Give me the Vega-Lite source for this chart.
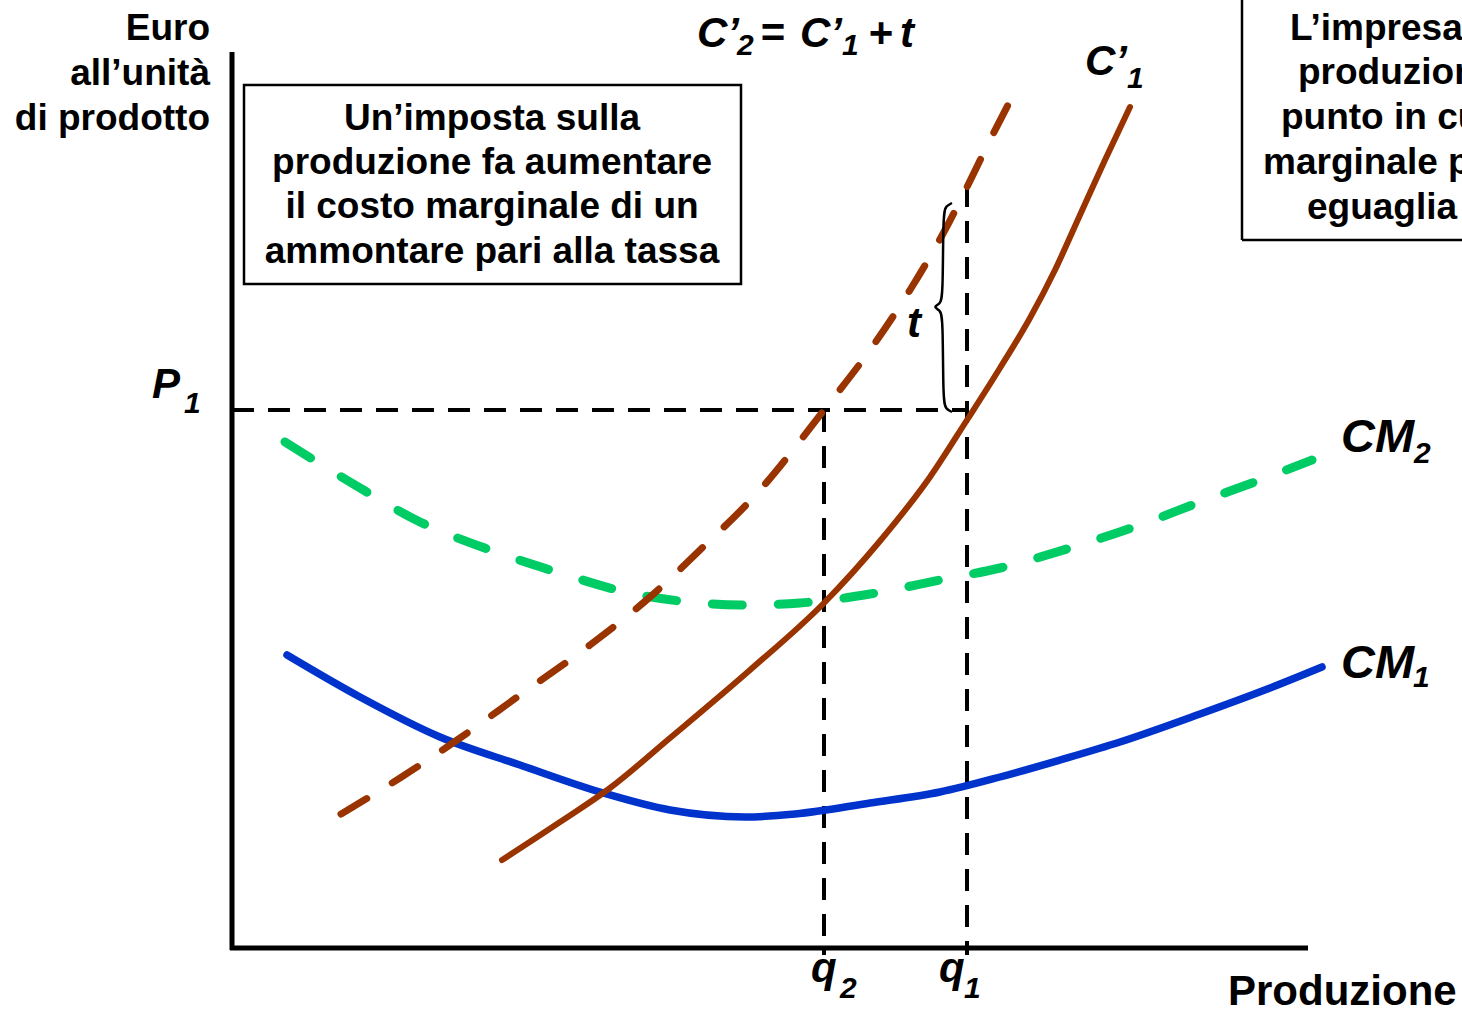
{
  "$schema": "https://vega.github.io/schema/vega-lite/v6.json",
  "width": 1462,
  "height": 1010,
  "autosize": {"type": "none"},
  "padding": 0,
  "background": "white",
  "config": {"view": {"stroke": null}},
  "datasets": {
    "curves": [
      {"s": "CM1", "ord": 1, "X": 5.5, "Y": 29.3},
      {"s": "CM1", "ord": 2, "X": 12.8, "Y": 25.1},
      {"s": "CM1", "ord": 3, "X": 20.8, "Y": 21.1},
      {"s": "CM1", "ord": 4, "X": 28.8, "Y": 18.3},
      {"s": "CM1", "ord": 5, "X": 36.8, "Y": 15.6},
      {"s": "CM1", "ord": 6, "X": 43.8, "Y": 13.8},
      {"s": "CM1", "ord": 7, "X": 51.3, "Y": 13.1},
      {"s": "CM1", "ord": 8, "X": 56.3, "Y": 13.4},
      {"s": "CM1", "ord": 9, "X": 63.8, "Y": 14.5},
      {"s": "CM1", "ord": 10, "X": 70.8, "Y": 15.6},
      {"s": "CM1", "ord": 11, "X": 76.8, "Y": 17.1},
      {"s": "CM1", "ord": 12, "X": 82.8, "Y": 18.8},
      {"s": "CM1", "ord": 13, "X": 88.8, "Y": 20.6},
      {"s": "CM1", "ord": 14, "X": 96.8, "Y": 23.4},
      {"s": "CM1", "ord": 15, "X": 103.8, "Y": 26.0},
      {"s": "CM1", "ord": 16, "X": 109.0, "Y": 28.1},
      {"s": "CM2", "ord": 1, "X": 5.3, "Y": 50.6},
      {"s": "CM2", "ord": 2, "X": 11.8, "Y": 46.6},
      {"s": "CM2", "ord": 3, "X": 18.8, "Y": 42.6},
      {"s": "CM2", "ord": 4, "X": 25.8, "Y": 39.8},
      {"s": "CM2", "ord": 5, "X": 32.8, "Y": 37.5},
      {"s": "CM2", "ord": 6, "X": 39.8, "Y": 35.5},
      {"s": "CM2", "ord": 7, "X": 46.8, "Y": 34.5},
      {"s": "CM2", "ord": 8, "X": 50.8, "Y": 34.3},
      {"s": "CM2", "ord": 9, "X": 56.8, "Y": 34.5},
      {"s": "CM2", "ord": 10, "X": 63.8, "Y": 35.4},
      {"s": "CM2", "ord": 11, "X": 70.8, "Y": 36.8},
      {"s": "CM2", "ord": 12, "X": 76.8, "Y": 38.0},
      {"s": "CM2", "ord": 13, "X": 83.8, "Y": 40.0},
      {"s": "CM2", "ord": 14, "X": 90.8, "Y": 42.3},
      {"s": "CM2", "ord": 15, "X": 96.8, "Y": 44.6},
      {"s": "CM2", "ord": 16, "X": 102.8, "Y": 46.8},
      {"s": "CM2", "ord": 17, "X": 108.0, "Y": 48.8},
      {"s": "C1", "ord": 1, "X": 27.0, "Y": 8.8},
      {"s": "C1", "ord": 2, "X": 32.8, "Y": 12.6},
      {"s": "C1", "ord": 3, "X": 37.8, "Y": 16.0},
      {"s": "C1", "ord": 4, "X": 43.8, "Y": 21.0},
      {"s": "C1", "ord": 5, "X": 51.8, "Y": 27.8},
      {"s": "C1", "ord": 6, "X": 59.2, "Y": 34.5},
      {"s": "C1", "ord": 7, "X": 64.8, "Y": 40.7},
      {"s": "C1", "ord": 8, "X": 69.8, "Y": 47.1},
      {"s": "C1", "ord": 9, "X": 73.5, "Y": 52.8},
      {"s": "C1", "ord": 10, "X": 76.8, "Y": 58.0},
      {"s": "C1", "ord": 11, "X": 79.8, "Y": 63.0},
      {"s": "C1", "ord": 12, "X": 82.3, "Y": 67.8},
      {"s": "C1", "ord": 13, "X": 84.8, "Y": 73.3},
      {"s": "C1", "ord": 14, "X": 87.3, "Y": 78.8},
      {"s": "C1", "ord": 15, "X": 89.8, "Y": 84.1},
      {"s": "C2", "ord": 1, "X": 10.9, "Y": 13.4},
      {"s": "C2", "ord": 2, "X": 16.8, "Y": 17.0},
      {"s": "C2", "ord": 3, "X": 22.8, "Y": 21.0},
      {"s": "C2", "ord": 4, "X": 28.8, "Y": 25.3},
      {"s": "C2", "ord": 5, "X": 35.8, "Y": 30.3},
      {"s": "C2", "ord": 6, "X": 41.8, "Y": 35.1},
      {"s": "C2", "ord": 7, "X": 46.8, "Y": 39.8},
      {"s": "C2", "ord": 8, "X": 52.8, "Y": 45.8},
      {"s": "C2", "ord": 9, "X": 59.2, "Y": 53.8},
      {"s": "C2", "ord": 10, "X": 63.8, "Y": 59.8},
      {"s": "C2", "ord": 11, "X": 67.8, "Y": 65.8},
      {"s": "C2", "ord": 12, "X": 71.3, "Y": 71.8},
      {"s": "C2", "ord": 13, "X": 73.6, "Y": 76.3},
      {"s": "C2", "ord": 14, "X": 75.8, "Y": 80.8},
      {"s": "C2", "ord": 15, "X": 78.5, "Y": 86.0},
      {"s": "brace", "ord": 1, "X": 72.0, "Y": 74.5},
      {"s": "brace", "ord": 2, "X": 71.4, "Y": 74.2},
      {"s": "brace", "ord": 3, "X": 71.1, "Y": 73.5},
      {"s": "brace", "ord": 4, "X": 71.1, "Y": 65.1},
      {"s": "brace", "ord": 5, "X": 70.8, "Y": 64.4},
      {"s": "brace", "ord": 6, "X": 70.1, "Y": 64.1},
      {"s": "brace", "ord": 7, "X": 70.8, "Y": 63.8},
      {"s": "brace", "ord": 8, "X": 71.1, "Y": 63.1},
      {"s": "brace", "ord": 9, "X": 71.1, "Y": 54.6},
      {"s": "brace", "ord": 10, "X": 71.4, "Y": 53.9},
      {"s": "brace", "ord": 11, "X": 72.0, "Y": 53.6}
    ],
    "segs": [
      {"k": "axis", "X": 0, "Y": 89.6, "X2": 0, "Y2": -0.2},
      {"k": "axis", "X": -0.2, "Y": 0, "X2": 107.6, "Y2": 0},
      {"k": "dash", "X": 0, "Y": 53.8, "X2": 73.5, "Y2": 53.8},
      {"k": "dash", "X": 59.2, "Y": 53.8, "X2": 59.2, "Y2": -0.7},
      {"k": "dash", "X": 73.5, "Y": 76.3, "X2": 73.5, "Y2": -0.7},
      {"k": "frame", "X": 101.0, "Y": 94.8, "X2": 101.0, "Y2": 70.8},
      {"k": "frame", "X": 101.0, "Y": 70.8, "X2": 123.0, "Y2": 70.8}
    ],
    "labels": [
      {"r": "box", "t": "Un’imposta sulla", "X": 26.0, "Y": 81.8},
      {"r": "box", "t": "produzione fa aumentare", "X": 26.0, "Y": 77.4},
      {"r": "box", "t": "il costo marginale di un", "X": 26.0, "Y": 73.0},
      {"r": "box", "t": "ammontare pari alla tassa", "X": 26.0, "Y": 68.5},
      {"r": "ylab", "t": "Euro", "X": -2.2, "Y": 90.8},
      {"r": "ylab", "t": "all’unità", "X": -2.2, "Y": 86.3},
      {"r": "ylab", "t": "di prodotto", "X": -2.2, "Y": 81.8},
      {"r": "right", "t": "L’impresa", "X": 105.8, "Y": 90.8},
      {"r": "right", "t": "produzion", "X": 106.6, "Y": 86.4},
      {"r": "right", "t": "punto in cu", "X": 104.9, "Y": 81.9},
      {"r": "right", "t": "marginale p", "X": 103.1, "Y": 77.4},
      {"r": "right", "t": "eguaglia", "X": 107.5, "Y": 72.9},
      {"r": "xlab", "t": "Produzione", "X": 99.6, "Y": -5.7},
      {"r": "math", "t": "C’", "X": 46.5, "Y": 90.1},
      {"r": "math", "t": "=", "X": 52.8, "Y": 90.1},
      {"r": "math", "t": "C’", "X": 56.8, "Y": 90.1},
      {"r": "math", "t": "+", "X": 63.6, "Y": 90.1},
      {"r": "math", "t": "t", "X": 66.8, "Y": 90.1},
      {"r": "math", "t": "C’", "X": 85.3, "Y": 87.3},
      {"r": "math", "t": "P", "X": -8.0, "Y": 55.0},
      {"r": "math", "t": "t", "X": 67.5, "Y": 61.1},
      {"r": "math", "t": "q", "X": 57.9, "Y": -3.4},
      {"r": "math", "t": "q", "X": 70.7, "Y": -3.4},
      {"r": "big", "t": "CM", "X": 110.9, "Y": 49.6},
      {"r": "big", "t": "CM", "X": 110.9, "Y": 27.0},
      {"r": "sub", "t": "2", "X": 50.5, "Y": 89.3},
      {"r": "sub", "t": "1", "X": 61.0, "Y": 89.3},
      {"r": "sub", "t": "1", "X": 89.5, "Y": 86.0},
      {"r": "sub", "t": "1", "X": -4.8, "Y": 53.5},
      {"r": "sub", "t": "2", "X": 118.2, "Y": 48.5},
      {"r": "sub", "t": "1", "X": 118.1, "Y": 26.1},
      {"r": "sub", "t": "2", "X": 60.8, "Y": -5.0},
      {"r": "sub", "t": "1", "X": 73.2, "Y": -5.0}
    ]
  },
  "encoding": {
    "x": {"field": "X", "type": "quantitative", "scale": {"domain": [-23.2, 123.0], "nice": false, "zero": false}, "axis": null},
    "y": {"field": "Y", "type": "quantitative", "scale": {"domain": [-6.2, 94.8], "nice": false, "zero": false}, "axis": null}
  },
  "layer": [
    {
      "data": {"values": [{"X": 1.2, "X2": 50.9, "Y": 86.3, "Y2": 66.4}]},
      "mark": {"type": "rect", "fill": "white", "stroke": "black", "strokeWidth": 2.5},
      "encoding": {"x2": {"field": "X2"}, "y2": {"field": "Y2"}}
    },
    {
      "data": {"name": "segs"},
      "transform": [{"filter": "datum.k === 'frame'"}],
      "mark": {"type": "rule", "color": "black", "strokeWidth": 2.5},
      "encoding": {"x2": {"field": "X2"}, "y2": {"field": "Y2"}}
    },
    {
      "data": {"name": "segs"},
      "transform": [{"filter": "datum.k === 'axis'"}],
      "mark": {"type": "rule", "color": "black", "strokeWidth": 5},
      "encoding": {"x2": {"field": "X2"}, "y2": {"field": "Y2"}}
    },
    {
      "data": {"name": "segs"},
      "transform": [{"filter": "datum.k === 'dash'"}],
      "mark": {"type": "rule", "color": "black", "strokeWidth": 4, "strokeDash": [22, 14]},
      "encoding": {"x2": {"field": "X2"}, "y2": {"field": "Y2"}}
    },
    {
      "data": {"name": "curves"},
      "transform": [{"filter": "datum.s === 'CM2'"}],
      "mark": {"type": "line", "color": "#00CC66", "strokeWidth": 9, "strokeDash": [30, 36], "strokeCap": "round", "interpolate": "monotone"},
      "encoding": {"order": {"field": "ord", "type": "quantitative"}}
    },
    {
      "data": {"name": "curves"},
      "transform": [{"filter": "datum.s === 'CM1'"}],
      "mark": {"type": "line", "color": "#0033CC", "strokeWidth": 7.5, "strokeCap": "round", "interpolate": "monotone"},
      "encoding": {"order": {"field": "ord", "type": "quantitative"}}
    },
    {
      "data": {"name": "curves"},
      "transform": [{"filter": "datum.s === 'C2'"}],
      "mark": {"type": "line", "color": "#993300", "strokeWidth": 7, "strokeDash": [30, 30], "strokeCap": "round", "interpolate": "monotone"},
      "encoding": {"order": {"field": "ord", "type": "quantitative"}}
    },
    {
      "data": {"name": "curves"},
      "transform": [{"filter": "datum.s === 'C1'"}],
      "mark": {"type": "line", "color": "#993300", "strokeWidth": 6, "strokeCap": "round", "interpolate": "monotone"},
      "encoding": {"order": {"field": "ord", "type": "quantitative"}}
    },
    {
      "data": {"name": "curves"},
      "transform": [{"filter": "datum.s === 'brace'"}],
      "mark": {"type": "line", "color": "black", "strokeWidth": 2.5, "interpolate": "basis"},
      "encoding": {"order": {"field": "ord", "type": "quantitative"}}
    },
    {
      "data": {"name": "labels"},
      "transform": [{"filter": "datum.r === 'box'"}],
      "mark": {"type": "text", "font": "Liberation Sans", "fontWeight": "bold", "fontSize": 37, "align": "center", "baseline": "alphabetic", "color": "black"},
      "encoding": {"text": {"field": "t"}}
    },
    {
      "data": {"name": "labels"},
      "transform": [{"filter": "datum.r === 'ylab'"}],
      "mark": {"type": "text", "font": "Liberation Sans", "fontWeight": "bold", "fontSize": 37, "align": "right", "baseline": "alphabetic", "color": "black"},
      "encoding": {"text": {"field": "t"}}
    },
    {
      "data": {"name": "labels"},
      "transform": [{"filter": "datum.r === 'right'"}],
      "mark": {"type": "text", "font": "Liberation Sans", "fontWeight": "bold", "fontSize": 37, "align": "left", "baseline": "alphabetic", "color": "black"},
      "encoding": {"text": {"field": "t"}}
    },
    {
      "data": {"name": "labels"},
      "transform": [{"filter": "datum.r === 'xlab'"}],
      "mark": {"type": "text", "font": "Liberation Sans", "fontWeight": "bold", "fontSize": 42, "align": "left", "baseline": "alphabetic", "color": "black"},
      "encoding": {"text": {"field": "t"}}
    },
    {
      "data": {"name": "labels"},
      "transform": [{"filter": "datum.r === 'math'"}],
      "mark": {"type": "text", "font": "Liberation Sans", "fontWeight": "bold", "fontStyle": "italic", "fontSize": 42, "align": "left", "baseline": "alphabetic", "color": "black"},
      "encoding": {"text": {"field": "t"}}
    },
    {
      "data": {"name": "labels"},
      "transform": [{"filter": "datum.r === 'big'"}],
      "mark": {"type": "text", "font": "Liberation Sans", "fontWeight": "bold", "fontStyle": "italic", "fontSize": 47, "align": "left", "baseline": "alphabetic", "color": "black"},
      "encoding": {"text": {"field": "t"}}
    },
    {
      "data": {"name": "labels"},
      "transform": [{"filter": "datum.r === 'sub'"}],
      "mark": {"type": "text", "font": "Liberation Sans", "fontWeight": "bold", "fontStyle": "italic", "fontSize": 30, "align": "left", "baseline": "alphabetic", "color": "black"},
      "encoding": {"text": {"field": "t"}}
    }
  ]
}
